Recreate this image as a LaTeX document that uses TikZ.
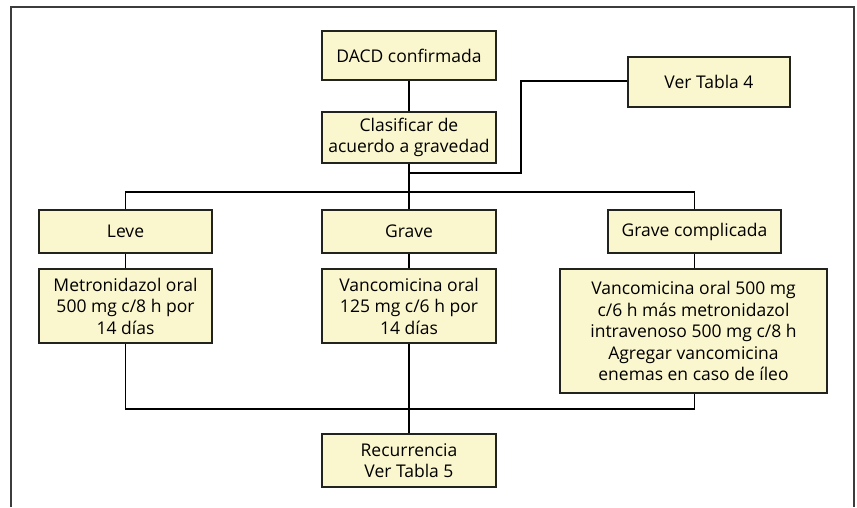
\documentclass[tikz,border=0pt]{standalone}
\usepackage{fontspec}
\setmainfont{Open Sans}
\definecolor{boxfill}{RGB}{250,246,205}
\definecolor{boxline}{RGB}{35,35,30}
\definecolor{framegray}{RGB}{60,60,60}
\begin{document}
\begin{tikzpicture}[x=1pt,y=-1pt,
  box/.style={draw=boxline,line width=1.2pt,fill=boxfill,align=center,inner sep=0pt,
    font=\fontsize{17.5}{21.5}\selectfont},
  conn/.style={line width=1.8pt,black}]
\useasboundingbox (0,0) rectangle (857,507);
\draw[framegray,line width=1.5pt] (11,507) -- (11,7) -- (854,7) -- (854,507);
\node[box,minimum width=174pt,minimum height=49pt] (dacd) at (409,55.5) {DACD confirmada};
\node[box,minimum width=174pt,minimum height=51pt] (clas) at (409,137.5) {Clasificar de\\acuerdo a gravedad};
\node[box,minimum width=162pt,minimum height=50pt] (ver4) at (709,82) {Ver Tabla 4};
\node[box,minimum width=173pt,minimum height=43pt] (leve) at (125.5,231.5) {Leve};
\node[box,minimum width=174pt,minimum height=43pt] (grave) at (409,231.5) {Grave};
\node[box,minimum width=173pt,minimum height=43pt] (gcomp) at (694.5,231.5) {Grave complicada};
\node[box,minimum width=173pt,minimum height=74pt] (metro) at (125.5,306) {Metronidazol oral\\500 mg c/8 h por\\14 días};
\node[box,minimum width=174pt,minimum height=74pt] (vanco) at (409,306) {Vancomicina oral\\125 mg c/6 h por\\14 días};
\node[box,minimum width=267pt,minimum height=124pt] (gcd) at (693.5,331) {Vancomicina oral 500 mg\\c/6 h más metronidazol\\intravenoso 500 mg c/8 h\\Agregar vancomicina\\enemas en caso de íleo};
\node[box,minimum width=174pt,minimum height=53pt] (recu) at (409,460.5) {Recurrencia\\Ver Tabla 5};
\coordinate (j1) at (409,173);
\coordinate (b1) at (409,192);
\coordinate (b2) at (409,409);
\draw[conn] (dacd) -- (clas);
\draw[conn] (clas) -- (grave);
\draw[conn] (ver4.west |- 0,80.7) -- (521,80.7) |- (j1);
\draw[conn] (leve.north) |- (b1) -| (gcomp.north);
\draw[conn] (leve) -- (metro);
\draw[conn] (grave) -- (vanco);
\draw[conn] (gcomp) -- (gcomp |- gcd.north);
\draw[conn] (metro.south) |- (b2) -| (gcomp |- gcd.south);
\draw[conn] (vanco) -- (recu);
\end{tikzpicture}
\end{document}
